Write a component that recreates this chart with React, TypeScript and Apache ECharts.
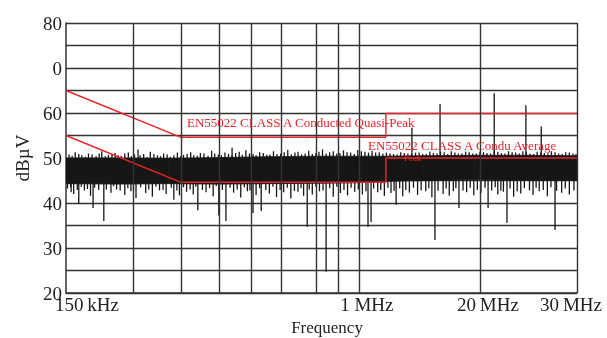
import React, { useEffect, useRef } from "react";
import * as echarts from "echarts";

// x axis: relative position along the frequency axis (0 = 150 kHz, 100 = 30 MHz)
const gridPositions = [13.1, 22.5, 29.9, 36.2, 42.1, 48.9, 53.2, 57.3, 81.0, 100];
const xLabelValues = [0, 57.3, 81.0, 100];
const xLabelTexts = ["150\u2009kHz", "1 MHz", "20\u2009MHz", "30\u2009MHz"];

// limit lines [position, dBµV]
const quasiPeakLimit = [[0, 65], [22.5, 54.6], [62.6, 54.6], [62.6, 59.9], [100, 59.9]];
const averageLimit = [[0, 55], [22.5, 44.6], [62.6, 44.6], [62.6, 50], [100, 50]];

// dense noise core envelope
const bandPos = [0, 10, 20, 30, 40, 50, 57, 62, 70, 80, 90, 100];
const bandHi = [50.0, 50.0, 49.9, 50.1, 50.3, 50.4, 50.4, 50.4, 50.5, 50.6, 50.6, 50.5];
const bandLo = [44.3, 44.2, 44.3, 44.2, 44.3, 44.4, 44.5, 44.8, 45.0, 45.2, 45.1, 45.0];

// fine upward peaks [position, dBµV]
const topHairs = [
  [0.6, 50.8], [1.8, 51.3], [3.1, 50.6], [4.4, 51.0], [5.9, 50.4], [7.0, 51.5], [8.3, 50.7], [9.6, 51.1],
  [10.8, 50.5], [12.2, 51.2], [13.4, 50.8], [15.2, 50.9], [16.5, 51.4], [17.9, 50.6], [19.1, 51.0], [20.4, 50.3],
  [21.8, 51.2], [23.0, 50.7], [24.4, 51.3], [25.7, 50.5], [27.0, 51.0], [28.5, 51.6], [29.8, 50.8], [31.1, 51.2],
  [32.5, 50.6], [33.9, 51.4], [35.2, 51.7], [36.6, 50.9], [37.9, 51.3], [39.3, 50.7], [40.6, 51.5], [42.0, 51.0],
  [43.4, 51.8], [44.8, 51.2], [46.1, 50.8], [47.5, 51.6], [48.9, 51.1], [50.2, 51.9], [51.6, 51.3], [53.0, 51.0],
  [54.3, 51.7], [55.7, 51.2], [57.1, 51.8], [58.5, 51.4], [59.9, 51.6], [61.3, 51.3], [62.7, 51.2], [64.1, 50.9],
  [65.5, 51.3], [66.9, 51.0], [68.4, 51.2], [69.8, 50.9], [71.2, 51.4], [72.6, 51.0], [74.0, 51.3], [75.4, 51.5],
  [76.8, 51.0], [78.2, 51.4], [79.6, 51.0], [81.0, 51.4], [82.4, 51.1], [83.8, 51.5], [85.2, 51.1], [86.6, 51.5],
  [88.0, 51.2], [89.4, 51.5], [90.8, 51.0], [92.2, 51.4], [93.6, 51.1], [95.0, 51.5], [96.4, 51.0], [97.8, 51.3],
  [99.2, 51.0],
];
const topHairs2 = [
  [1.2, 50.5], [2.5, 50.9], [3.8, 50.3], [5.1, 50.8], [6.5, 51.0], [7.7, 50.4], [9.0, 50.9], [10.2, 50.6],
  [11.5, 51.0], [12.8, 50.4], [14.5, 50.6], [15.9, 50.2], [17.2, 50.9], [18.5, 50.4], [19.8, 50.8], [21.1, 50.6],
  [22.4, 50.4], [23.7, 50.9], [25.0, 50.6], [26.3, 51.1], [27.8, 50.5], [29.1, 51.0], [30.4, 50.6], [31.8, 50.9],
  [33.2, 51.1], [34.5, 50.7], [35.9, 51.0], [37.2, 50.6], [38.6, 51.1], [39.9, 50.8], [41.3, 50.9], [42.7, 51.3],
  [44.1, 50.8], [45.4, 51.4], [46.8, 51.0], [48.2, 50.9], [49.5, 51.4], [50.9, 51.0], [52.3, 51.5], [53.6, 51.1],
  [55.0, 51.3], [56.4, 50.9], [57.8, 51.5], [59.2, 51.2], [60.6, 51.2], [62.0, 51.0], [63.4, 51.0], [64.8, 50.8],
  [66.2, 51.1], [67.6, 50.9], [69.1, 51.2], [70.5, 50.9], [71.9, 51.1], [73.3, 51.3], [74.7, 50.9], [76.1, 51.2],
  [77.5, 51.0], [78.9, 51.3], [80.3, 51.0], [81.7, 51.3], [83.1, 51.0], [84.5, 51.4], [85.9, 51.0], [87.3, 51.3],
  [88.7, 51.0], [90.1, 51.3], [91.5, 50.9], [92.9, 51.2], [94.3, 51.0], [95.7, 51.3], [97.1, 50.9], [98.5, 51.2],
  [99.8, 50.9],
];

// fine downward dips [position, dBµV]
const bottomHairs = [
  [0.3, 43.2], [1.5, 42.0], [3.6, 42.8], [4.8, 41.6], [6.4, 42.9], [8.8, 42.3], [9.9, 43.0], [11.5, 41.8],
  [12.7, 42.6], [15.6, 42.2], [16.9, 41.4], [18.3, 42.8], [19.6, 42.0], [22.2, 41.7], [23.6, 42.5], [24.9, 41.9],
  [27.4, 42.4], [28.8, 41.5], [32.8, 42.3], [34.2, 41.2], [35.5, 42.6], [37.2, 41.8], [39.8, 42.1], [41.2, 41.3],
  [42.6, 42.4], [44.0, 41.0], [45.4, 42.5], [46.5, 41.6], [48.2, 41.9], [49.6, 42.6], [52.3, 41.4], [53.7, 42.2],
  [55.1, 41.7], [56.5, 42.5], [58.0, 41.9], [61.0, 42.4], [62.3, 41.6], [63.6, 42.2], [65.9, 41.5], [67.2, 42.3],
  [68.8, 41.8], [70.4, 42.6], [71.6, 41.3], [73.8, 42.0], [75.0, 41.6], [78.4, 42.4], [79.8, 41.7], [81.2, 42.2],
  [84.5, 41.9], [85.6, 42.5], [87.6, 41.4], [89.0, 42.1], [91.4, 41.8], [92.6, 42.6], [94.2, 41.5], [97.0, 42.3],
  [98.5, 41.9],
];
const bottomHairs2 = [
  [0.9, 43.5], [2.2, 42.9], [3.0, 43.6], [4.2, 43.1], [5.6, 43.4], [7.9, 43.0], [9.3, 43.7], [10.6, 42.8],
  [12.1, 43.3], [13.2, 42.7], [14.6, 43.5], [16.2, 43.0], [17.6, 43.6], [19.0, 42.9], [20.6, 43.4], [21.7, 42.8],
  [23.0, 43.5], [24.3, 43.0], [25.4, 43.6], [26.7, 42.9], [28.1, 43.3], [29.4, 43.7], [30.6, 42.9], [32.1, 43.4],
  [33.5, 43.0], [34.9, 43.5], [36.0, 42.8], [37.9, 43.3], [39.1, 42.9], [40.5, 43.6], [41.9, 42.9], [43.3, 43.4],
  [44.7, 42.7], [46.0, 43.3], [47.6, 43.0], [48.9, 43.6], [50.3, 42.8], [51.6, 43.3], [53.0, 43.6], [54.4, 42.9],
  [55.8, 43.4], [57.2, 43.0], [58.7, 42.6], [60.2, 43.2], [61.6, 42.9], [63.0, 43.4], [64.2, 42.7], [65.3, 43.3],
  [66.5, 42.9], [68.0, 43.4], [69.5, 42.8], [71.0, 43.3], [72.8, 42.7], [74.4, 43.2], [75.8, 42.6], [76.3, 43.3],
  [77.7, 42.8], [79.1, 43.4], [80.5, 42.9], [82.0, 43.4], [83.3, 42.8], [84.0, 43.5], [85.1, 42.7], [86.9, 43.2],
  [88.3, 42.6], [89.7, 43.3], [90.7, 42.8], [92.0, 43.4], [93.4, 42.9], [94.9, 43.5], [96.0, 42.7], [97.7, 43.2],
  [99.4, 42.8],
];

// isolated peaks and dips [position, dBµV]
const spikesUp = [[14.1, 51.9], [32.5, 52.3], [67.7, 56.7], [73.2, 62.0], [83.8, 64.4], [90.0, 61.7], [93.0, 57.0]];
const spikesDown = [
  [1.0, 42.4], [2.5, 39.8], [5.3, 38.9], [7.4, 36.0], [13.7, 41.1], [21.1, 40.7], [25.8, 38.4], [29.9, 37.3],
  [31.3, 36.0], [36.6, 37.8], [38.2, 38.2], [47.2, 34.7], [50.9, 24.7], [59.1, 34.7], [59.7, 35.8], [64.6, 39.6],
  [72.2, 31.8], [76.9, 38.9], [82.6, 38.9], [86.3, 35.6], [95.7, 34.0],
];

const NOISE_BASE = 47;
const SERIF = "'Liberation Serif', 'DejaVu Serif', serif";
const GRID_COLOR = "#333";
const RED = "#e8242b";
const INK = "#161616";

export default function App() {
  const ref = useRef<HTMLDivElement>(null);

  useEffect(() => {
    if (!ref.current) return;
    const chart = echarts.init(ref.current, undefined, { renderer: "svg" });

    const hairData = [...topHairs, ...topHairs2, ...bottomHairs, ...bottomHairs2, ...spikesUp, ...spikesDown].map(
      ([u, v]) => [u, NOISE_BASE, v]
    );
    const bandSegments = bandPos
      .slice(0, -1)
      .map((p, i) => [p, bandLo[i], bandHi[i], bandPos[i + 1], bandLo[i + 1], bandHi[i + 1]]);

    const option: any = {
      animation: false,
      grid: { left: 66, right: 30, top: 23, bottom: 45, containLabel: false, outerBoundsMode: "none" },
      xAxis: {
        type: "value",
        min: 0,
        max: 100,
        name: "Frequency",
        nameLocation: "middle",
        nameGap: 24,
        nameTextStyle: { fontFamily: SERIF, fontSize: 17, color: "#222", padding: [0, 0, 0, 11] },
        axisLine: { show: true, lineStyle: { color: GRID_COLOR, width: 1.5 } },
        axisTick: { show: false },
        splitLine: { show: false },
        axisLabel: {
          customValues: xLabelValues,
          margin: 2,
          fontFamily: SERIF,
          fontSize: 19,
          color: "#222",
          formatter: (v: number) => {
            const i = xLabelValues.findIndex((x) => Math.abs(x - v) < 0.01);
            return i < 0 ? "" : `{p${i}|${xLabelTexts[i]}}`;
          },
          rich: {
            p0: { fontFamily: SERIF, fontSize: 19, color: "#222", padding: [0, 0, 0, 42] },
            p1: { fontFamily: SERIF, fontSize: 19, color: "#222", padding: [0, 0, 0, 16] },
            p2: { fontFamily: SERIF, fontSize: 19, color: "#222", padding: [0, 0, 0, 16] },
            p3: { fontFamily: SERIF, fontSize: 19, color: "#222", padding: [0, 12, 0, 0] },
          },
        },
      },
      yAxis: {
        type: "value",
        min: 20,
        max: 80,
        interval: 5,
        name: "dBµV",
        nameLocation: "middle",
        nameGap: 34,
        nameRotate: 90,
        nameTextStyle: { fontFamily: SERIF, fontSize: 19, color: "#222" },
        axisLine: { show: true, lineStyle: { color: GRID_COLOR, width: 1.5 } },
        axisTick: { show: false },
        axisLabel: {
          margin: 4,
          fontFamily: SERIF,
          fontSize: 19,
          color: "#222",
          formatter: (v: number) => (v === 70 ? "0" : v % 10 === 0 ? String(v) : ""),
        },
        splitLine: { show: true, lineStyle: { color: GRID_COLOR, width: 1.4 } },
      },
      series: [
        {
          type: "line",
          z: 1,
          data: [[0, 20]],
          symbol: "none",
          lineStyle: { opacity: 0 },
          silent: true,
          markLine: {
            silent: true,
            symbol: ["none", "none"],
            label: { show: false },
            lineStyle: { type: "solid", color: GRID_COLOR, width: 1.4 },
            data: gridPositions.map((p) => ({ xAxis: p })),
          },
        },
        {
          type: "custom",
          z: 2,
          clip: true,
          silent: true,
          encode: { x: [0, 3], y: [1, 2, 4, 5] },
          data: bandSegments,
          renderItem: (params: any, api: any) => {
            const p1 = api.coord([api.value(0), api.value(2)]);
            const p2 = api.coord([api.value(3), api.value(5)]);
            const p3 = api.coord([api.value(3), api.value(4)]);
            const p4 = api.coord([api.value(0), api.value(1)]);
            return {
              type: "polygon",
              shape: { points: [p1, p2, p3, p4] },
              style: { fill: INK, stroke: INK, lineWidth: 0.8 },
            };
          },
        },
        {
          type: "custom",
          z: 3,
          clip: true,
          silent: true,
          encode: { x: 0, y: [1, 2] },
          data: hairData,
          renderItem: (params: any, api: any) => {
            const a = api.coord([api.value(0), api.value(1)]);
            const b = api.coord([api.value(0), api.value(2)]);
            return {
              type: "line",
              shape: { x1: a[0], y1: a[1], x2: b[0], y2: b[1] },
              style: { stroke: INK, lineWidth: 1.3 },
            };
          },
        },
        {
          type: "line",
          z: 4,
          data: quasiPeakLimit,
          symbol: "none",
          lineStyle: { color: RED, width: 1.4 },
          silent: true,
        },
        {
          type: "line",
          z: 4,
          data: averageLimit,
          symbol: "none",
          lineStyle: { color: RED, width: 1.4 },
          silent: true,
        },
      ],
      graphic: [
        {
          type: "text",
          left: 187,
          top: 116,
          z: 10,
          style: { text: "EN55022 CLASS A Conducted Quasi-Peak", fill: RED, font: `13px ${SERIF}` },
        },
        {
          type: "text",
          left: 368,
          top: 139,
          z: 10,
          style: { text: "EN55022 CLASS A Condu Average", fill: RED, font: `13px ${SERIF}` },
        },
        {
          type: "text",
          left: 404,
          top: 153,
          z: 10,
          style: { text: "Peak", fill: RED, font: `9px ${SERIF}` },
        },
      ],
    };

    chart.setOption(option);
    return () => chart.dispose();
  }, []);

  return <div ref={ref} style={{ position: "fixed", left: 0, top: 0, width: 607, height: 338 }} />;
}
